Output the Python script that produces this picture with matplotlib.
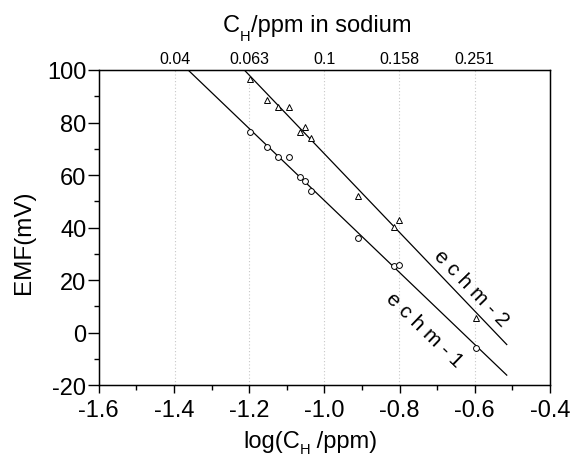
import numpy as np
import matplotlib
matplotlib.use("Agg")
import matplotlib.pyplot as plt
from matplotlib.ticker import MultipleLocator

plt.rcParams['font.family'] = ['Liberation Sans', 'DejaVu Sans']
plt.rcParams['axes.unicode_minus'] = False

# echm-1 (circles)
x1 = [-1.199, -1.153, -1.124, -1.095, -1.066, -1.051, -1.036, -0.910, -0.816, -0.802, -0.598]
y1 = [76.5, 70.6, 66.7, 66.9, 59.4, 57.6, 53.8, 36.0, 25.4, 25.6, -6.0]
# echm-2 (triangles)
x2 = [-1.199, -1.153, -1.123, -1.095, -1.051, -1.066, -1.036, -0.910, -0.802, -0.816, -0.598]
y2 = [96.6, 88.7, 85.8, 85.8, 78.2, 76.5, 74.1, 51.9, 43.0, 40.1, 5.6]

top_ticks = [0.04, 0.063, 0.1, 0.158, 0.251]
top_labels = ['0.04', '0.063', '0.1', '0.158', '0.251']
line_end = -0.515

W, H = 575, 456
fig = plt.figure(figsize=(W / 100, H / 100), dpi=100)
ax = fig.add_axes([0.1718, 0.1535, 0.7847, 0.6908])
ax.set_xlim(-1.6, -0.4)
ax.set_ylim(-20, 100)

xs = np.linspace(-1.6, line_end, 200)
for x, y in [(x1, y1), (x2, y2)]:
    k, b = np.polyfit(x, y, 1)
    ax.plot(xs, k * xs + b, color='black', lw=0.9, zorder=2)

ax.plot(x1, y1, 'o', ms=4.2, mfc='white', mec='black', mew=0.7, zorder=3)
ax.plot(x2, y2, '^', ms=4.8, mfc='white', mec='black', mew=0.7, zorder=3)

ax.xaxis.set_major_locator(MultipleLocator(0.2))
ax.xaxis.set_minor_locator(MultipleLocator(0.1))
ax.yaxis.set_major_locator(MultipleLocator(20))
ax.yaxis.set_minor_locator(MultipleLocator(10))
xt = np.arange(-1.6, -0.39, 0.2)
ax.set_xticks(xt)
ax.set_xticklabels([f'{v:.1f}' for v in xt])
ax.set_xlim(-1.6, -0.4)
ax.tick_params(which='major', direction='out', width=1, labelsize=17)
ax.tick_params(axis='x', which='major', length=6, pad=4)
ax.tick_params(axis='y', which='major', length=8, pad=1)
ax.tick_params(which='minor', direction='out', length=3.5, width=1)
for s in ax.spines.values():
    s.set_linewidth(1)

ax.set_ylabel('EMF(mV)', fontsize=17.5)
ax.yaxis.set_label_coords(-0.141, 0.455)

ax2 = ax.twiny()
ax2.set_xlim(ax.get_xlim())
ax2.set_xticks(np.log10(top_ticks))
ax2.set_xticklabels(top_labels)
ax2.tick_params(axis='x', length=0, labelsize=11.5, pad=3)
for t in np.log10(top_ticks):
    ax.axvline(t, color='#c8c8c8', lw=0.8, ls=(0, (1, 2)), zorder=1)

# composed labels with lowered subscript
renderer = fig.canvas.get_renderer()


def compose(x0, ybase, pieces):
    x = x0
    for txt, size, drop in pieces:
        t = fig.text(x / W, 1 - (ybase + drop) / H, txt, fontsize=size,
                     ha='left', va='baseline')
        bb = t.get_window_extent(renderer)
        x += bb.width


compose(223, 32, [('C', 17, 0), ('H', 10.5, 9), ('/ppm in sodium', 17, 0)])
compose(243, 448, [('log(C', 17, 0), ('H', 10.5, 6), (' /ppm)', 17, 0)])

ax.text(-0.610, 17.3, 'e c h m - 2', rotation=-46, fontsize=15,
        ha='center', va='center', rotation_mode='anchor')
ax.text(-0.734, 1.3, 'e c h m - 1', rotation=-44, fontsize=15,
        ha='center', va='center', rotation_mode='anchor')

fig.savefig('out.png', dpi=100)
